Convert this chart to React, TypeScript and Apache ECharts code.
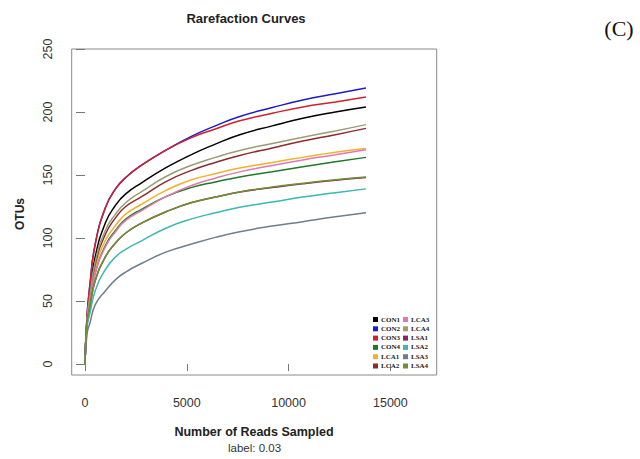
import React, { useEffect, useRef } from "react";
import * as echarts from "echarts";

const reads = [0, 100, 250, 500, 1000, 1500, 2000, 2800, 4000, 5200, 6400, 7600, 9200, 10700, 12300, 13800];

const sampleNames = ["CON1", "CON2", "CON3", "CON4", "LCA1", "LCA2", "LCA3", "LCA4", "LSA1", "LSA2", "LSA3", "LSA4"];
const sampleColors = ["#000000", "#1c1cc8", "#d0202a", "#1e7a26", "#f2b02e", "#8c2a2e", "#e07aae", "#9c9c74", "#8c2268", "#3cb8ae", "#6e7e8a", "#6f9030"];

const CON1 = [0, 36, 58, 85, 112, 126, 135, 144, 156, 166, 174.5, 182, 189, 195, 200, 204];
const CON2 = [0, 38, 64, 95, 124, 139, 148, 158, 170, 180.5, 189, 196.5, 203.5, 209.5, 214.5, 219];
const CON3 = [0, 38, 64, 95, 124, 139, 148, 158, 170, 179.5, 186.5, 193, 199, 204, 208, 212];
const CON4 = [0, 33, 50, 72, 94, 106, 115, 123, 133, 140, 144.5, 148.5, 152.5, 156.5, 160.5, 164];
const LCA1 = [0, 34, 52, 76, 98, 110, 119, 127, 138, 146, 151, 155.5, 160, 164, 168, 171];
const LCA2 = [0, 35, 54, 79, 103, 116, 125, 133, 145, 153.5, 160, 165.5, 171.5, 177, 182, 187];
const LCA3 = [0, 33, 50, 72, 93, 105, 114, 122, 133, 141.5, 147.5, 152.5, 157.5, 162, 166, 170];
const LCA4 = [0, 35, 55, 81, 106, 119, 128, 137, 149, 157.5, 164, 169.5, 175, 180, 185, 190];
const LSA1 = [0, 32, 46, 66, 85, 96, 104, 112, 121, 128, 132.5, 136.5, 140, 143, 145.8, 148];
const LSA2 = [0, 29, 41, 58, 75, 85, 91, 98, 108, 115, 120, 124.5, 128.5, 132.5, 136, 139];
const LSA3 = [0, 24, 33, 47, 58, 67, 73, 80, 89, 95, 100.5, 105, 109.5, 113, 116.8, 120];
const LSA4 = [0, 32, 46, 66, 85, 96, 104, 112, 121, 128, 132.5, 136.5, 140.5, 143.5, 146.3, 148.5];

const sampleValues = [CON1, CON2, CON3, CON4, LCA1, LCA2, LCA3, LCA4, LSA1, LSA2, LSA3, LSA4];

const xTicks = [0, 5000, 10000, 15000];
const yTicks = [0, 50, 100, 150, 200, 250];

const SANS = "'Liberation Sans', Arial, sans-serif";
const SERIF = "'Liberation Serif', 'Times New Roman', serif";

export default function App() {
  const ref = useRef<HTMLDivElement>(null);
  useEffect(() => {
    if (!ref.current) return;
    const chart = echarts.init(ref.current, null, { renderer: "svg" });
    const series = sampleNames.map((name, i) => ({
      name,
      type: "line",
      data: reads.map((r, j) => [r, sampleValues[i][j]]),
      smooth: 0.5,
      showSymbol: false,
      symbol: "none",
      lineStyle: { color: sampleColors[i], width: 1.5 },
      itemStyle: { color: sampleColors[i] },
    }));
    const legendCommon = {
      orient: "vertical",
      top: 316,
      itemWidth: 5,
      itemHeight: 5,
      itemGap: 2.3,
      icon: "rect",
      padding: 0,
      textStyle: { fontFamily: SERIF, fontWeight: "bold", fontSize: 7, color: "#222", lineHeight: 7, padding: [0, 0, 0, -2] },
    };
    chart.setOption({
      animation: false,
      backgroundColor: "#ffffff",
      grid: {
        left: 71.7,
        right: 640 - 436.7,
        top: 49,
        bottom: 459 - 375,
        show: true,
        borderColor: "#8a8a8a",
        borderWidth: 1,
        backgroundColor: "transparent",
      },
      xAxis: {
        type: "value",
        min: -653,
        max: 17275,
        axisLine: { show: false },
        splitLine: { show: false },
        axisTick: { show: true, customValues: xTicks, length: 7, inside: false, lineStyle: { color: "#777" } },
        offset: 1,
        axisLabel: { customValues: xTicks, formatter: (v: number) => String(v), margin: 20, fontFamily: SANS, fontSize: 12.5, color: "#333" },
      },
      yAxis: {
        type: "value",
        min: -8.7,
        max: 250,
        axisLine: { show: false },
        splitLine: { show: false },
        offset: 0,
        axisTick: { show: true, customValues: yTicks, length: 9, lineStyle: { color: "#777" } },
        axisLabel: { customValues: yTicks, formatter: (v: number) => String(v), rotate: 90, margin: 17, fontFamily: SANS, fontSize: 12.5, color: "#333" },
      },
      legend: [
        { ...legendCommon, left: 373, data: sampleNames.slice(0, 6) },
        { ...legendCommon, left: 403, data: sampleNames.slice(6) },
      ],
      series,
      graphic: [
        {
          type: "text",
          style: { text: "Rarefaction Curves", font: `bold 13px ${SANS}`, fill: "#222", x: 246, y: 18, align: "center", verticalAlign: "middle" },
        },
        {
          type: "text",
          style: { text: "(C)", font: `22px ${SERIF}`, fill: "#111", x: 619, y: 28, align: "center", verticalAlign: "middle" },
        },
        {
          type: "text",
          style: { text: "Number of Reads Sampled", font: `bold 12.5px ${SANS}`, fill: "#222", x: 254, y: 432, align: "center", verticalAlign: "middle" },
        },
        {
          type: "text",
          style: { text: "label: 0.03", font: `11.5px ${SANS}`, fill: "#333", x: 254.5, y: 448, align: "center", verticalAlign: "middle" },
        },
        {
          type: "text",
          x: 20,
          y: 214,
          rotation: Math.PI / 2,
          style: { text: "OTUs", font: `bold 12px ${SANS}`, fill: "#222", x: 0, y: 0, align: "center", verticalAlign: "middle" },
        },
      ],
    });
    return () => chart.dispose();
  }, []);
  return <div ref={ref} style={{ position: "absolute", left: 0, top: 0, width: 640, height: 459 }} />;
}
